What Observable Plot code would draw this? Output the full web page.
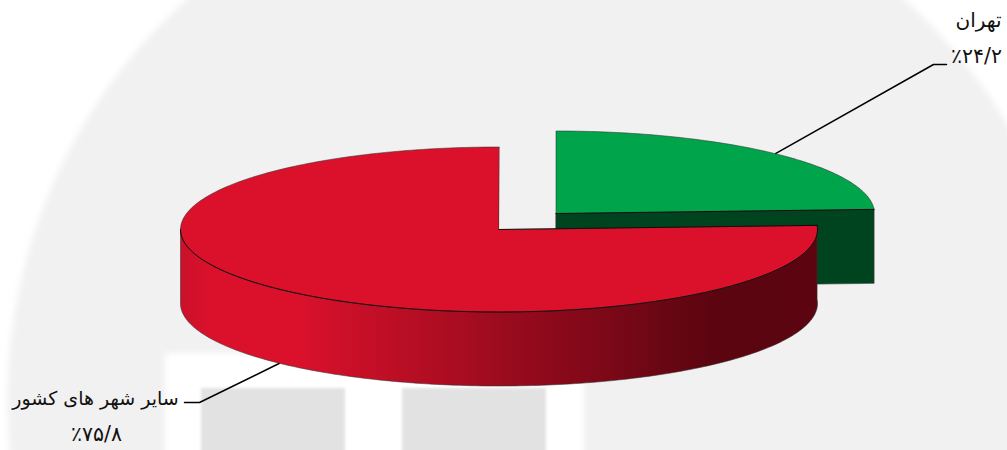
<!DOCTYPE html>
<html lang="fa">
<head>
<meta charset="utf-8">
<script src="https://cdn.jsdelivr.net/npm/d3@7"></script>
<script src="https://cdn.jsdelivr.net/npm/@observablehq/plot@0.6"></script>
<style>
  html, body { margin: 0; padding: 0; background: #fff; }
  svg { display: block; }
</style>
</head>
<body>
<div id="chart"></div>
<script>
// Data
const names = ["تهران", "سایر شهر های کشور"];
const values = [24.2, 75.8];
const percentLabels = ["٪۲۴/۲", "٪۷۵/۸"];

// Layout
const topColors = ["#00a44a", "#db112c"];
const wallColors = ["#00431f", "url(#redWall)"];
const centers = [[555.5, 213], [498.5, 229]];
const rx = 318.5, ry = 82.5, depth = 74;
const nameAt = [[978, 20], [95, 398.5]];
const percentAt = [[976, 56], [96, 434]];
const nameSizes = [20, 19];
const percentSize = 20.5;
const elbows = [[933, 64], [199, 402]];
const leaderEnds = [[946, 64], [184, 402]];

// Slice angles, clockwise from twelve o'clock
const total = d3.sum(values);
const starts = [0, values[0] / total * 360];
const ends = [values[0] / total * 360, 360];
const rad = (a) => a * Math.PI / 180;
const rim = ([cx, cy], a, drop = 0) => ({x: cx + rx * Math.sin(rad(a)), y: cy - ry * Math.cos(rad(a)) + drop});
const arc = (c, a0, a1, drop = 0) => d3.range(a0, a1, 1).concat(a1).map((a) => rim(c, a, drop));
const apex = ([cx, cy], drop = 0) => ({x: cx, y: cy + drop});

const topFace = (i) => [apex(centers[i]), ...arc(centers[i], starts[i], ends[i])];
const redOuterWall = [
  ...arc(centers[1], ends[0], 270),
  ...arc(centers[1], ends[0], 270, depth).reverse()
];
const greenCutWall = [
  apex(centers[0]),
  rim(centers[0], ends[0]),
  rim(centers[0], ends[0], depth),
  apex(centers[0], depth)
];
const redFrontEdge = arc(centers[1], ends[0], 270);
const redCutEdge = [apex(centers[1]), rim(centers[1], ends[0])];
const greenCutEdge = [apex(centers[0]), rim(centers[0], ends[0])];

const leader = (i) => {
  const mid = (starts[i] + ends[i]) / 2;
  const start = rim(centers[i], mid, i === 1 ? depth : 0);
  return [start, {x: elbows[i][0], y: elbows[i][1]}, {x: leaderEnds[i][0], y: leaderEnds[i][1]}];
};

// Faint watermark behind the chart
const wmCircle = d3.range(0, 360, 1).map((a) => ({
  x: 545 + 538 * Math.sin(rad(a)),
  y: 400 - 538 * Math.cos(rad(a))
}));
const wmPanel = [{x1: 165, x2: 584, y1: 353, y2: 470}];
const wmBlocks = [{x1: 201, x2: 345, y1: 388, y2: 470}, {x1: 402, x2: 546, y1: 388, y2: 470}];

const gradient = () => {
  const defs = d3.create("svg:defs");
  const g = defs.append("linearGradient").attr("id", "redWall")
    .attr("x1", 0).attr("x2", 1).attr("y1", 0).attr("y2", 0);
  [[0, "#cb102a"], [0.05, "#db112c"], [0.18, "#db112c"], [0.84, "#5a0510"], [1, "#5c0510"]]
    .forEach(([o, c]) => g.append("stop").attr("offset", o).attr("stop-color", c));
  return defs.node();
};

const blurred = (px) => (index, scales, values, dimensions, context, next) => {
  const g = next(index, scales, values, dimensions, context);
  g.style.filter = `blur(${px}px)`;
  return g;
};

const edge = {stroke: "#333", strokeWidth: 0.8, strokeOpacity: 0.7, strokeLinejoin: "round"};
const face = (pts, fill) => Plot.line(pts, {x: "x", y: "y", curve: "linear-closed", fill, ...edge});
const darkEdge = (pts) => Plot.line(pts, {x: "x", y: "y", stroke: "#120305", strokeWidth: 1, strokeOpacity: 0.9});
const label = (text, at, fontSize) => Plot.text([text], {
  x: () => at[0], y: () => at[1], text: (d) => d,
  fontSize, fontFamily: "DejaVu Sans", fill: "#111", textAnchor: "middle", lineAnchor: "middle"
});

const plot = Plot.plot({
  width: 1007, height: 450,
  margin: 0,
  style: {background: "#fff"},
  x: {domain: [0, 1007], range: [0, 1007], axis: null},
  y: {domain: [0, 450], range: [0, 450], axis: null},
  marks: [
    gradient,
    Plot.line(wmCircle, {x: "x", y: "y", curve: "linear-closed", fill: "#f1f1f1", stroke: "none", render: blurred(3)}),
    Plot.rect(wmPanel, {x1: "x1", x2: "x2", y1: "y1", y2: "y2", fill: "#fff", render: blurred(3)}),
    Plot.rect(wmBlocks, {x1: "x1", x2: "x2", y1: "y1", y2: "y2", fill: "#e2e2e2", render: blurred(1.5)}),
    ...[0, 1].map((i) => Plot.line(leader(i), {x: "x", y: "y", stroke: "#000", strokeWidth: 1.5})),
    face(greenCutWall, wallColors[0]),
    face(topFace(0), topColors[0]),
    darkEdge(greenCutEdge),
    face(redOuterWall, wallColors[1]),
    face(topFace(1), topColors[1]),
    darkEdge(redFrontEdge),
    darkEdge(redCutEdge),
    ...[0, 1].map((i) => label(names[i], nameAt[i], nameSizes[i])),
    ...[0, 1].map((i) => label(percentLabels[i], percentAt[i], percentSize))
  ]
});
document.getElementById("chart").append(plot);
</script>
</body>
</html>
